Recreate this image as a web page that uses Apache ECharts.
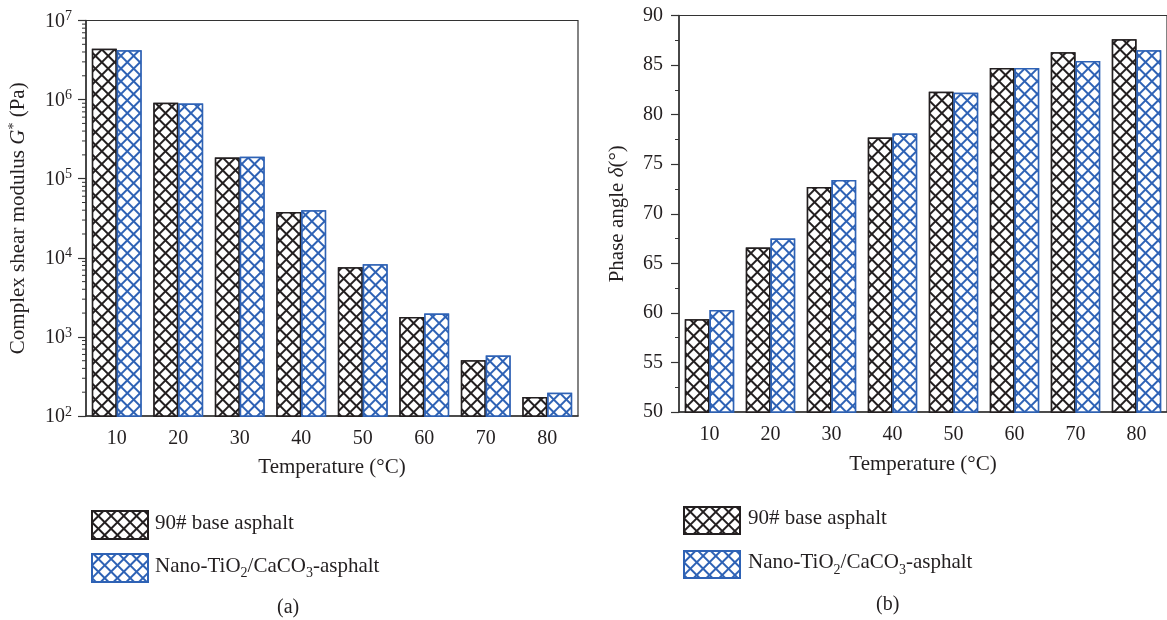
<!DOCTYPE html>
<html>
<head>
<meta charset="utf-8">
<script src="https://cdn.jsdelivr.net/npm/echarts@6/dist/echarts.min.js"></script>
<style>
html,body{margin:0;padding:0;background:#fff;}
#chart{width:1167px;height:620px;}
</style>
</head>
<body>
<div id="chart"></div>
<script>
// ---- data ----
const temps = ['10', '20', '30', '40', '50', '60', '70', '80'];
const seriesNames = ['90# base asphalt', 'Nano-TiO2/CaCO3-asphalt'];
// (a) complex shear modulus G* (Pa), log scale
const gBase = [4.4e6, 9.1e5, 1.86e5, 3.8e4, 7600, 1790, 507, 174];
const gNano = [4.2e6, 8.9e5, 1.9e5, 4.0e4, 8300, 1970, 580, 197];
// (b) phase angle delta (deg)
const dBase = [59.35, 66.6, 72.7, 77.7, 82.3, 84.7, 86.3, 87.6];
const dNano = [60.3, 67.5, 73.4, 78.1, 82.2, 84.7, 85.4, 86.5];
// axis settings
const logMin = 100, logMax = 1e7;
const logMinorMantissas = [2, 3, 4, 5, 6, 7, 8, 9];
const logDecades = [100, 1000, 10000, 100000, 1000000];
const phaseMin = 50, phaseMax = 90, phaseStep = 5;

const FONT = '"Liberation Serif", "DejaVu Serif", serif';
const TXT = '#231f20';
const AX = '#333333';
const BLACK = '#231f20';
const BLUE = '#2e62b5';

const logMinorTicks = [];
logDecades.forEach(d => logMinorMantissas.forEach(m => logMinorTicks.push([temps[0], m * d])));

function hatch(col) {
  return {
    symbol: 'rect', symbolSize: 1, color: '#ffffff', backgroundColor: col,
    dashArrayX: [7, 1.5], dashArrayY: [7, 1.5], rotation: Math.PI / 4
  };
}
function barStyle(col) {
  return { color: '#ffffff', borderColor: col, borderWidth: 1.5, decal: hatch(col) };
}

const chart = echarts.init(document.getElementById('chart'), null, { renderer: 'canvas' });

const legendRich = {
  n: { fontFamily: FONT, fontSize: 21, color: TXT, verticalAlign: 'bottom', padding: [0, 0, 4, 0] },
  sub: { fontFamily: FONT, fontSize: 14, color: TXT, verticalAlign: 'bottom' }
};
function legendFmt(name) {
  if (name === seriesNames[1]) return '{n|Nano-TiO}{sub|2}{n|/CaCO}{sub|3}{n|-asphalt}';
  return '{n|' + name + '}';
}

const option = {
  backgroundColor: '#ffffff',
  animation: false,
  grid: [
    { left: 86, top: 20.5, width: 492, height: 395.5, show: true, borderColor: AX, borderWidth: 1.2, backgroundColor: 'transparent' },
    { left: 679, top: 15.5, width: 491, height: 396.5, show: true, borderColor: AX, borderWidth: 1.2, backgroundColor: 'transparent' }
  ],
  xAxis: [0, 1].map(i => ({
    type: 'category', gridIndex: i, data: temps,
    axisLine: { lineStyle: { color: AX, width: 1.5 } },
    axisTick: { alignWithLabel: true, length: 7, lineStyle: { color: AX, width: 1.2 } },
    axisLabel: { fontFamily: FONT, fontSize: 20, color: TXT, margin: 13 },
    name: 'Temperature (°C)', nameLocation: 'middle', nameGap: i === 0 ? 41 : 42,
    nameTextStyle: { fontFamily: FONT, fontSize: 21, color: TXT }
  })),
  yAxis: [
    {
      type: 'log', gridIndex: 0, min: logMin, max: logMax, logBase: 10,
      axisLine: { show: true, lineStyle: { color: AX, width: 1.5 } },
      axisTick: { show: true, length: 8, lineStyle: { color: AX, width: 1.2 } },
      minorTick: { show: false },
      splitLine: { show: false },
      axisLabel: {
        margin: 14,
        formatter: v => '{b|10}{s|' + Math.round(Math.log10(v)) + '}',
        rich: {
          b: { fontFamily: FONT, fontSize: 20, color: TXT, verticalAlign: 'bottom' },
          s: { fontFamily: FONT, fontSize: 14, color: TXT, verticalAlign: 'bottom', padding: [0, 0, 8, 0] }
        }
      },
      name: 'Complex shear modulus {i|G}{s|*} (Pa)', nameLocation: 'middle', nameGap: 57,
      nameTextStyle: {
        fontFamily: FONT, fontSize: 21, color: TXT,
        rich: {
          i: { fontFamily: FONT, fontSize: 21, fontStyle: 'italic', color: TXT },
          s: { fontFamily: FONT, fontSize: 14, color: TXT, verticalAlign: 'bottom', padding: [0, 0, 8, 0] }
        }
      }
    },
    {
      type: 'value', gridIndex: 1, min: phaseMin, max: phaseMax, interval: phaseStep,
      axisLine: { show: true, lineStyle: { color: AX, width: 1.5 } },
      axisTick: { show: true, length: 8, lineStyle: { color: AX, width: 1.2 } },
      minorTick: { show: true, splitNumber: 2, length: 4, lineStyle: { color: AX, width: 1 } },
      splitLine: { show: false },
      axisLabel: { fontFamily: FONT, fontSize: 20, color: TXT, margin: 16 },
      name: 'Phase angle {i|δ}(°)', nameLocation: 'middle', nameGap: 51,
      nameTextStyle: {
        fontFamily: FONT, fontSize: 21, color: TXT,
        rich: { i: { fontFamily: FONT, fontSize: 21, fontStyle: 'italic', color: TXT } }
      }
    }
  ],
  legend: [
    {
      data: seriesNames, orient: 'vertical', left: 86, top: 505, icon: 'rect',
      itemWidth: 56, itemHeight: 28, itemGap: 13,
      formatter: legendFmt, textStyle: { rich: legendRich, padding: [0, 0, 0, 2] },
      selectedMode: false
    },
    {
      data: seriesNames, orient: 'vertical', left: 678, top: 501, icon: 'rect',
      itemWidth: 56, itemHeight: 27, itemGap: 15,
      formatter: legendFmt, textStyle: { rich: legendRich, padding: [0, 0, 0, 3] },
      selectedMode: false
    }
  ],
  series: [
    { name: seriesNames[0], type: 'bar', xAxisIndex: 0, yAxisIndex: 0, data: gBase, barGap: '0%', barCategoryGap: '19%', itemStyle: barStyle(BLACK) },
    { name: seriesNames[1], type: 'bar', xAxisIndex: 0, yAxisIndex: 0, data: gNano, barGap: '0%', barCategoryGap: '19%', itemStyle: barStyle(BLUE) },
    { name: seriesNames[0], type: 'bar', xAxisIndex: 1, yAxisIndex: 1, data: dBase, barGap: '0%', barCategoryGap: '19%', itemStyle: barStyle(BLACK) },
    { name: seriesNames[1], type: 'bar', xAxisIndex: 1, yAxisIndex: 1, data: dNano, barGap: '0%', barCategoryGap: '19%', itemStyle: barStyle(BLUE) },
    {
      // minor ticks of the logarithmic axis at 2..9 x 10^n
      type: 'custom', xAxisIndex: 0, yAxisIndex: 0, data: logMinorTicks, silent: true, z: 5, clip: false,
      renderItem: function (params, api) {
        const p = api.coord([api.value(0), api.value(1)]);
        const x0 = params.coordSys.x;
        return {
          type: 'line',
          shape: { x1: x0 - 4, y1: p[1], x2: x0, y2: p[1] },
          style: { stroke: AX, lineWidth: 1 }
        };
      }
    }
  ],
  graphic: [
    { type: 'text', left: 277, top: 598, style: { text: '(a)', font: '20px ' + FONT, fill: TXT } },
    { type: 'text', left: 876, top: 595, style: { text: '(b)', font: '20px ' + FONT, fill: TXT } }
  ]
};
chart.setOption(option);
</script>
</body>
</html>
